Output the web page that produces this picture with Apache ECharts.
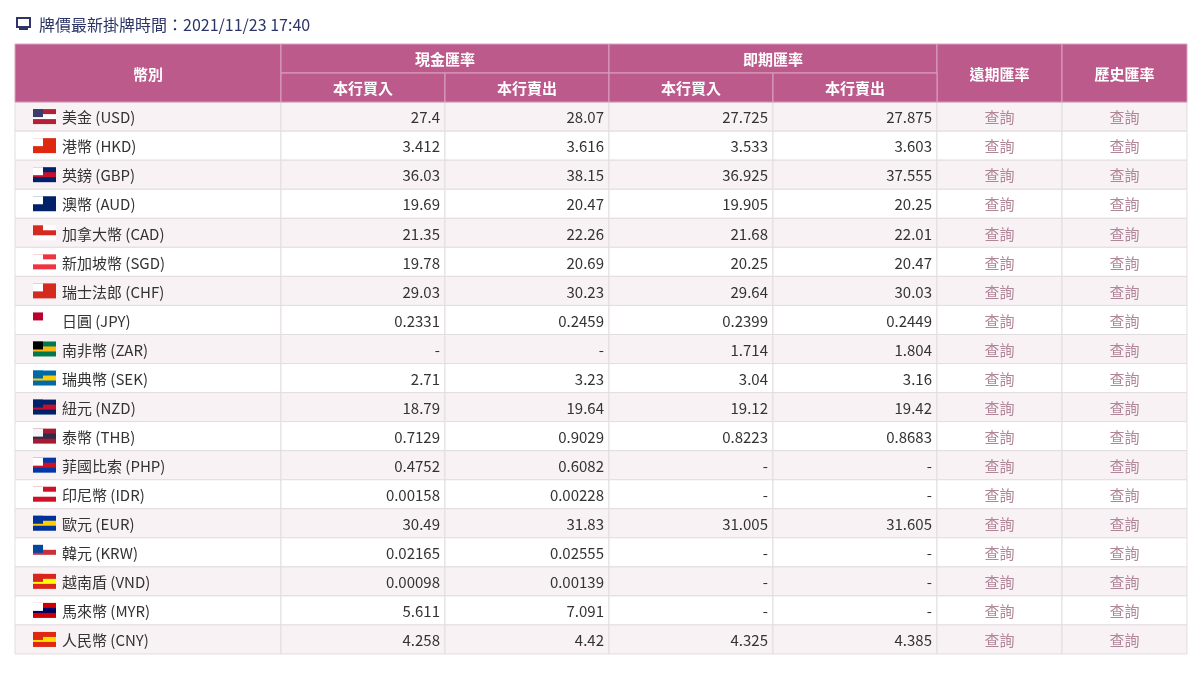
<!DOCTYPE html><html><head><meta charset="utf-8"><script src="https://cdn.jsdelivr.net/npm/echarts@6/dist/echarts.min.js"></script>
<style>html,body{margin:0;background:#fff}#c{width:1200px;height:675px}</style></head><body><div id="c"></div><script>
const title = '牌價最新掛牌時間：2021/11/23 17:40';
const currencies = ['美金 (USD)','港幣 (HKD)','英鎊 (GBP)','澳幣 (AUD)','加拿大幣 (CAD)','新加坡幣 (SGD)','瑞士法郎 (CHF)','日圓 (JPY)','南非幣 (ZAR)','瑞典幣 (SEK)','紐元 (NZD)','泰幣 (THB)','菲國比索 (PHP)','印尼幣 (IDR)','歐元 (EUR)','韓元 (KRW)','越南盾 (VND)','馬來幣 (MYR)','人民幣 (CNY)'];
const cashBuy  = ['27.4','3.412','36.03','19.69','21.35','19.78','29.03','0.2331','-','2.71','18.79','0.7129','0.4752','0.00158','30.49','0.02165','0.00098','5.611','4.258'];
const cashSell = ['28.07','3.616','38.15','20.47','22.26','20.69','30.23','0.2459','-','3.23','19.64','0.9029','0.6082','0.00228','31.83','0.02555','0.00139','7.091','4.42'];
const spotBuy  = ['27.725','3.533','36.925','19.905','21.68','20.25','29.64','0.2399','1.714','3.04','19.12','0.8223','-','-','31.005','-','-','-','4.325'];
const spotSell = ['27.875','3.603','37.555','20.25','22.01','20.47','30.03','0.2449','1.804','3.16','19.42','0.8683','-','-','31.605','-','-','-','4.385'];
const linkText = '查詢';
const groupHeaders = ['幣別','現金匯率','即期匯率','遠期匯率','歷史匯率'];
const subHeaders = ['本行買入','本行賣出','本行買入','本行賣出'];
const flagColors = [['#b22234','#fff','#3c3b6e'],['#de2910','#de2910','#fff'],['#012169','#c8102e','#fff'],['#012169','#012169','#fff'],['#fff','#d52b1e','#d52b1e'],['#ef3340','#fff','#fff'],['#d52b1e','#d52b1e','#fff'],['#fff','#fff','#bc002d'],['#007a4d','#ffb612','#000'],['#006aa7','#fecc00','#006aa7'],['#012169','#c8102e','#012169'],['#a51931','#2d2a4a','#f4f5f8'],['#0038a8','#ce1126','#fff'],['#ce1126','#fff','#fff'],['#003399','#ffcc00','#003399'],['#fff','#cd2e3a','#0047a0'],['#da251d','#ffff00','#da251d'],['#cc0001','#010066','#fff'],['#de2910','#ffde00','#de2910']];

const colEdges = [0,266,430,594,758,922,1047,1172];
const rows = ['h1','h2'].concat(currencies);
const data = [];
currencies.forEach((c,i)=>{
  const vals=[c,cashBuy[i],cashSell[i],spotBuy[i],spotSell[i],linkText,linkText];
  vals.forEach((v,j)=>data.push({value:[j, i+2], text:v, kind:'cell'}));
});
const font = '"Noto Sans CJK TC","Noto Sans",sans-serif';
function renderItem(params, api){
  const col = api.value(0), row = api.value(1);
  const d = data[params.dataIndex];
  const p0 = api.coord([colEdges[col], row]);
  const p1 = api.coord([colEdges[col+1], row]);
  const h = api.size([0,1])[1];
  const x=p0[0], w=p1[0]-p0[0], y=p0[1]-h/2;
  const bg = (row%2===0)?'#f8f2f5':'#ffffff';
  const ch=[{type:'rect',shape:{x,y,width:w,height:h},style:{fill:bg,stroke:'#e2dde0',lineWidth:1}}];
  if(col===0){
    const fc=flagColors[row-2];
    ch.push({type:'rect',shape:{x:x+18,y:y+7,width:23,height:15},style:{fill:fc[0]}});
    ch.push({type:'rect',shape:{x:x+18,y:y+12,width:23,height:5},style:{fill:fc[1]}});
    ch.push({type:'rect',shape:{x:x+18,y:y+7,width:10,height:8},style:{fill:fc[2]}});
    ch.push({type:'text',style:{x:x+47,y:y+h/2+1,text:d.text,fill:'#333',font:'15px '+font,verticalAlign:'middle'}});
  } else if(col>=5){
    ch.push({type:'text',style:{x:x+w/2,y:y+h/2+1,text:d.text,fill:'#b08598',font:'15px '+font,align:'center',verticalAlign:'middle'}});
  } else {
    ch.push({type:'text',style:{x:x+w-5,y:y+h/2+1,text:d.text,fill:'#333',font:'15px '+font,align:'right',verticalAlign:'middle'}});
  }
  return {type:'group',children:ch};
}
// header cells: [colStart,colEnd,rowStart,rowEnd,text]
const hdr=[[0,1,0,1,groupHeaders[0]],[1,3,0,0,groupHeaders[1]],[3,5,0,0,groupHeaders[2]],[5,6,0,1,groupHeaders[3]],[6,7,0,1,groupHeaders[4]],
 [1,2,1,1,subHeaders[0]],[2,3,1,1,subHeaders[1]],[3,4,1,1,subHeaders[2]],[4,5,1,1,subHeaders[3]]];
function renderHdr(params, api){
  const d=hdr[params.dataIndex];
  const h=api.size([0,1])[1];
  const a=api.coord([colEdges[d[0]], d[2]]), b=api.coord([colEdges[d[1]], d[3]]);
  const x=a[0], y=a[1]-h/2, w=b[0]-a[0], hh=b[1]+h/2-y;
  return {type:'group',children:[
    {type:'rect',shape:{x,y,width:w,height:hh},style:{fill:'#bd5a8c',stroke:'#d9a3bf',lineWidth:1}},
    {type:'text',style:{x:x+w/2,y:y+hh/2+1,text:d[4],fill:'#fff',font:'bold 15px '+font,align:'center',verticalAlign:'middle'}}]};
}
const chart = echarts.init(document.getElementById('c'));
chart.setOption({
  animation:false,
  title:{text:title,left:34,top:12,textStyle:{fontSize:16,fontWeight:'normal',color:'#2c3566',fontFamily:font}},
  graphic:[{type:'rect',left:16,top:17,shape:{width:13,height:9},style:{fill:'#fff',stroke:'#2c3566',lineWidth:2}},
           {type:'rect',left:19,top:28,shape:{width:9,height:2},style:{fill:'#2c3566'}}],
  grid:{left:15,right:13,top:44,height:610},
  xAxis:{type:'value',min:0,max:1172,show:false},
  yAxis:{type:'category',data:rows,inverse:true,show:false},
  series:[
    {type:'custom',renderItem:renderItem,data:data.map(d=>d.value),silent:true},
    {type:'custom',renderItem:renderHdr,data:hdr.map(d=>[d[0],d[2]]),silent:true}
  ]
});
</script></body></html>
